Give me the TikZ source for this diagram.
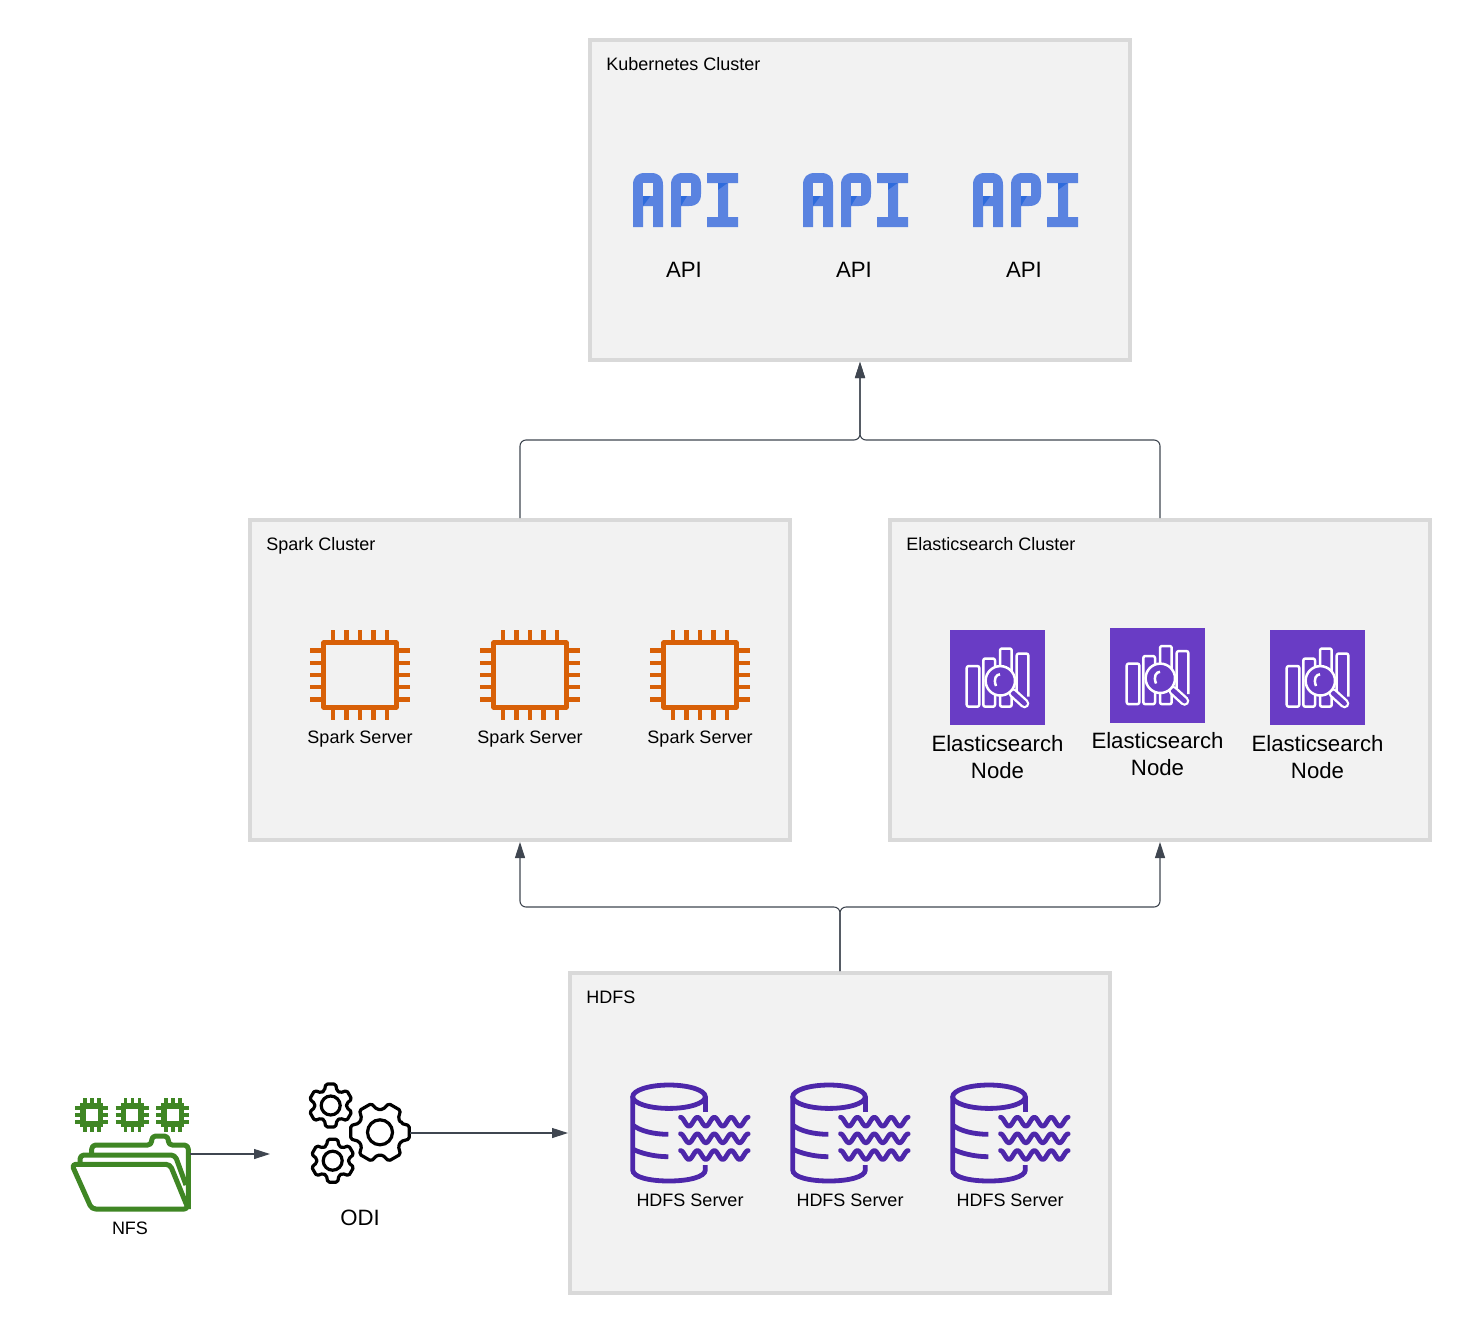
\documentclass[tikz,border=0pt]{standalone}
\usepackage{fontspec}
\setmainfont{Liberation Sans}
\usetikzlibrary{arrows.meta}
\definecolor{boxfill}{HTML}{F2F2F2}
\definecolor{boxline}{HTML}{D9D9D9}
\definecolor{linkgray}{HTML}{3F4650}
\definecolor{apiblue}{HTML}{5A83E0}
\definecolor{apidark}{HTML}{2E6BDC}
\definecolor{chiporange}{HTML}{D86007}
\definecolor{espurple}{HTML}{693CC5}
\definecolor{hdfspurple}{HTML}{4D27AA}
\definecolor{nfsgreen}{HTML}{3F8624}
\newcommand{\smalltext}{\fontsize{9}{11}\selectfont}
\newcommand{\bigtext}{\fontsize{11.1}{13.5}\selectfont}
\newcommand{\gearshape}[6]{%
  \begin{scope}[shift={(#1,#2)},rotate=#6]
    \draw [line width=1.6pt,line join=round,rounded corners=0.8pt] (-23:#4)
      \foreach \ang in {0,60,120,180,240,300} {
        -- ({\ang-23}:#4) -- ({\ang-13}:#3) -- ({\ang+13}:#3) -- ({\ang+23}:#4)
      } -- cycle;
    \draw [line width=1.6pt] (0,0) circle (#5);
  \end{scope}}
\tikzset{
  clusterbox/.style={draw=boxline,fill=boxfill,line width=2pt,inner sep=0pt,minimum width=270pt,minimum height=160pt},
  link/.style={draw=linkgray,line width=0.55pt,rounded corners=3pt,-{Triangle[length=8pt,width=5pt]}},
  smalllabel/.style={font=\smalltext,inner sep=0pt,text=black,text height=6pt,text depth=0pt},
  biglabel/.style={font=\bigtext,inner sep=0pt,text=black,align=center},
  iconarea/.style={inner sep=0pt,outer sep=0pt},
  apiicon/.pic={
    \fill [apiblue] (0,54) -- (0,12) .. controls (0,4) and (4,0) .. (12,0) -- (18,0) .. controls (26,0) and (30,4) .. (30,12) -- (30,54) -- (20,54) -- (20,33) -- (10,33) -- (10,54) -- cycle;
    \fill [boxfill] (10,10) rectangle (20,23);
    \fill [apidark] (10,23) -- (17.5,23) -- (10,33) -- cycle;
    \fill [apiblue] (38,54) -- (38,12) .. controls (38,4) and (42,0) .. (50,0) -- (56,0) .. controls (64,0) and (68,4) .. (68,12) -- (68,21) .. controls (68,29) and (64,33) .. (56,33) -- (48,33) -- (48,54) -- cycle;
    \fill [boxfill] (48,10) rectangle (58,23);
    \fill [apidark] (48,23) -- (54,23) -- (48,33) -- cycle;
    \fill [apiblue] (74,0) -- (105,0) -- (105,10) -- (95,10) -- (95,44) -- (105,44) -- (105,54) -- (74,54) -- (74,44) -- (85,44) -- (85,10) -- (74,10) -- cycle;
    \fill [apidark] (85,10) -- (94.5,10) -- (85,17) -- cycle;
  },
  chipicon/.pic={
    \draw [chiporange,line width=2.3pt,line join=round] (-36.3,-32.3) rectangle (36.3,32.3);
    \foreach \pinx in {-27,-13.5,0,13.5,27} {
      \draw [chiporange,line width=2.2pt] (\pinx,-45) -- (\pinx,-33);
      \draw [chiporange,line width=2.2pt] (\pinx,33) -- (\pinx,45);
    }
    \foreach \piny in {-24.4,-12.2,0,12.2,24.4} {
      \draw [chiporange,line width=2.2pt] (-50,\piny) -- (-37,\piny);
      \draw [chiporange,line width=2.2pt] (37,\piny) -- (50,\piny);
    }
  },
  esicon/.pic={
    \fill [espurple] (-47.5,-47.5) rectangle (47.5,47.5);
    \begin{scope}[draw=white,line width=1.25pt,rounded corners=1pt,line join=round]
      \draw (-30.8,-11.5) rectangle (-18.2,29.2);
      \draw (-14.2,-19) rectangle (-2.5,29.2);
      \draw (2.5,-29) rectangle (14.2,29.2);
      \draw (19.2,14) -- (19.2,-24) -- (30.8,-24) -- (30.8,19);
    \end{scope}
    \draw [white,line width=4.8pt,line cap=round] (15.5,15.5) -- (27,26);
    \draw [espurple,line width=2.4pt,line cap=round] (15.5,15.5) -- (27,26);
    \draw [white,fill=espurple,line width=1.25pt] (2.8,3.3) circle (14.7);
    \draw [white,line width=1.25pt] (2.5,-3.2) .. controls (-1,-3.2) and (-4.5,1) .. (-1.5,8.5);
  },
  hdfsicon/.pic={
    \begin{scope}[draw=hdfspurple,line width=2.4pt,line cap=butt]
      \draw (-21,-36.3) ellipse (36.3 and 11.7);
      \draw (-57.3,-36.3) -- (-57.3,37) .. controls (-57.3,44) and (-41,48) .. (-21,48) .. controls (-2,48) and (15.3,44) .. (15.3,37) -- (15.3,32);
      \draw (15.3,-36.3) -- (15.3,-20.7);
      \draw (-57.3,-8) .. controls (-50,-2) and (-36,1.3) .. (-21.7,1.3);
      \draw (-57.3,16) .. controls (-50,20) and (-36,23.7) .. (-21.7,23.7);
      \foreach \rowy in {-11.3,5.3,22} {
        \draw [line cap=round,line join=round] plot [domain=0:4,samples=49,variable=\t] ({-9.5+16.9*\t},{\rowy-4.5*cos(360*\t)});
      }
    \end{scope}
  },
  minichip/.pic={
    \foreach \pinpos in {-7,0,7} {
      \draw [nfsgreen,line width=1.8pt] (\pinpos,-16.7) -- (\pinpos,16.7);
      \draw [nfsgreen,line width=1.8pt] (-16.7,\pinpos) -- (16.7,\pinpos);
    }
    \draw [nfsgreen,fill=white,line width=2.85pt] (-8.85,-8.85) rectangle (8.85,8.85);
  },
  nfsicon/.pic={
    \path (-38.3,-40) pic {minichip};
    \path (2.3,-40) pic {minichip};
    \path (42.7,-40) pic {minichip};
    \begin{scope}[draw=nfsgreen,line width=2.5pt,line join=round,rounded corners=2pt]
      \draw (-38.3,-1.7) -- (-38.3,-10) -- (21.7,-10) -- (21.7,-19) -- (38.3,-19) -- (38.3,-10) -- (58.3,-10) -- (58.3,54);
      \draw (-50,8.3) -- (-50,0) -- (45,0) -- (56,30);
      \draw (-58.3,9.3) -- (40,9.3) -- (58.3,54) -- (-38.3,54) -- cycle;
    \end{scope}
  },
  odiicon/.pic={
    \gearshape{21}{-0.7}{30}{23}{12.5}{0}
    \gearshape{-28.3}{-27.5}{22}{16}{9.5}{90}
    \gearshape{-26.3}{27.7}{22}{16}{9.5}{90}
  }
}
\begin{document}
\begin{tikzpicture}[x=0.5pt,y=-0.5pt]
  \useasboundingbox (0,0) rectangle (1470,1333);
  \node (k8s) [clusterbox] at (860,200) {};
  \node (spark) [clusterbox] at (520,680) {};
  \node (es) [clusterbox] at (1160,680) {};
  \node (hdfs) [clusterbox] at (840,1133) {};
  \node (k8sTitle) [smalllabel,anchor=west] at (606,64.5) {Kubernetes Cluster};
  \node (sparkTitle) [smalllabel,anchor=west] at (266,544) {Spark Cluster};
  \node (esTitle) [smalllabel,anchor=west] at (906,544) {Elasticsearch Cluster};
  \node (hdfsTitle) [smalllabel,anchor=west] at (586,997.5) {HDFS};
  \path (633,173) pic {apiicon};
  \path (803,173) pic {apiicon};
  \path (973,173) pic {apiicon};
  \node (apiOne) [biglabel] at (684,269.5) {API};
  \node (apiTwo) [biglabel] at (854,269.5) {API};
  \node (apiThree) [biglabel] at (1024,269.5) {API};
  \path (360,675) pic {chipicon};
  \path (530,675) pic {chipicon};
  \path (700,675) pic {chipicon};
  \node (sparkOne) [smalllabel] at (360,737) {Spark Server};
  \node (sparkTwo) [smalllabel] at (530,737) {Spark Server};
  \node (sparkThree) [smalllabel] at (700,737) {Spark Server};
  \path (997.5,677.5) pic {esicon};
  \path (1157.5,675) pic {esicon};
  \path (1317.5,677.5) pic {esicon};
  \node (esOne) [biglabel] at (997.5,757.5) {Elasticsearch\\Node};
  \node (esTwo) [biglabel] at (1157.5,754.5) {Elasticsearch\\Node};
  \node (esThree) [biglabel] at (1317.5,757.5) {Elasticsearch\\Node};
  \path (690,1133) pic {hdfsicon};
  \path (850,1133) pic {hdfsicon};
  \path (1010,1133) pic {hdfsicon};
  \node (hdfsOne) [smalllabel] at (690,1200) {HDFS Server};
  \node (hdfsTwo) [smalllabel] at (850,1200) {HDFS Server};
  \node (hdfsThree) [smalllabel] at (1010,1200) {HDFS Server};
  \node (nfsIcon) [iconarea,minimum width=60pt,minimum height=55pt] at (130,1154) {};
  \path (130,1155) pic {nfsicon};
  \node (nfsLabel) [smalllabel] at (130,1228) {NFS};
  \node (odiIcon) [iconarea,minimum width=51pt,minimum height=51pt] at (359,1133) {};
  \path (odiIcon.center) pic {odiicon};
  \node (odiLabel) [biglabel] at (360,1217.5) {ODI};
  \coordinate (apiJoin) at (860,440);
  \coordinate (hdfsJoin) at (840,907);
  \coordinate (nfsEnd) at (270,1154);
  \draw [link] (spark.north) -- (spark.north |- apiJoin) -- (apiJoin) -- (k8s.south);
  \draw [link] (es.north) -- (es.north |- apiJoin) -- (apiJoin) -- (k8s.south);
  \draw [link] (hdfs.north) -- (hdfsJoin) -- (spark.south |- hdfsJoin) -- (spark.south);
  \draw [link] (hdfs.north) -- (hdfsJoin) -- (es.south |- hdfsJoin) -- (es.south);
  \draw [link] (nfsIcon.east) -- (nfsEnd);
  \draw [link] (odiIcon.east) -- (hdfs.west);
\end{tikzpicture}
\end{document}
